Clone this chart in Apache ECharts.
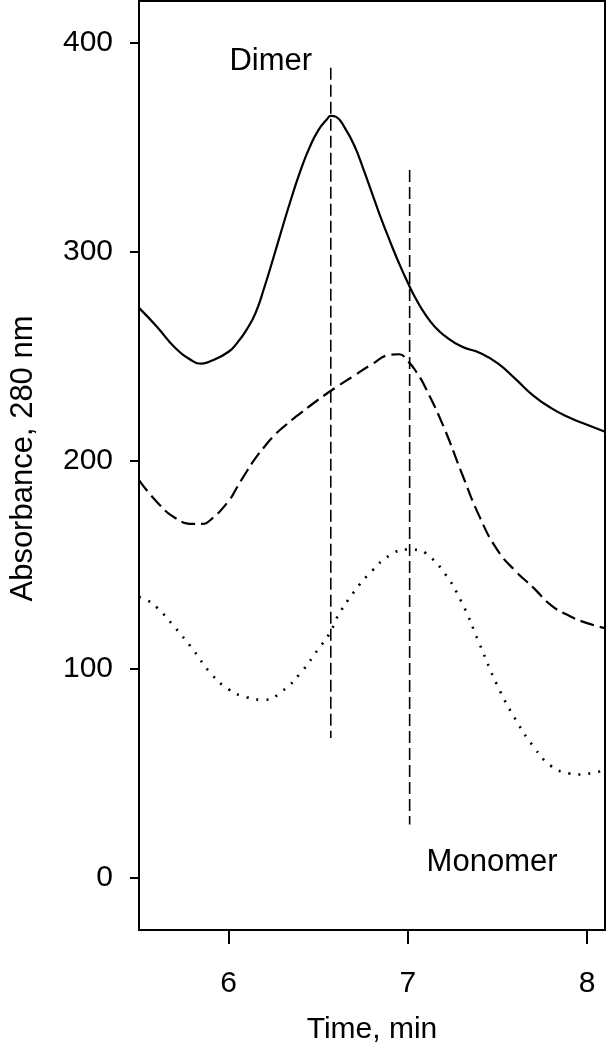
<!DOCTYPE html>
<html>
<head>
<meta charset="utf-8">
<script src="https://cdn.jsdelivr.net/npm/echarts@6/dist/echarts.min.js"></script>
<style>
    html, body { margin: 0; padding: 0; background: #fff; }
    #chart { width: 607px; height: 1050px; }
</style>
</head>
<body>
<div id="chart"></div>
<script>
// values: [time (min), absorbance]
var solidTrace = [
    [5.5, 273], [5.6, 264], [5.7, 254], [5.8, 247.5], [5.85, 246.3], [5.9, 247.5],
    [6.0, 252], [6.05, 256.5], [6.1, 262.5], [6.15, 270.5], [6.2, 283], [6.25, 297],
    [6.3, 311.5], [6.35, 325.5], [6.4, 338.5], [6.45, 349.5], [6.5, 358], [6.55, 363.5],
    [6.57, 365], [6.6, 364.5], [6.65, 359], [6.7, 351], [6.75, 340], [6.8, 328],
    [6.85, 316], [6.9, 305], [6.95, 294.5], [7.0, 285], [7.05, 276.5], [7.1, 269.5],
    [7.15, 264], [7.2, 260], [7.3, 254.5], [7.4, 251.5], [7.5, 246.5], [7.6, 239],
    [7.7, 231], [7.8, 225], [7.9, 220.5], [8.0, 217], [8.1, 213.7]
];
var dashedTrace = [
    [5.5, 190.5], [5.6, 180], [5.7, 172.5], [5.8, 169.5], [5.85, 169.5], [5.9, 171.5],
    [6.0, 180.5], [6.05, 187.5], [6.1, 194.5], [6.15, 201], [6.2, 206.5], [6.25, 211.5],
    [6.3, 215.5], [6.4, 222.5], [6.5, 229], [6.6, 235], [6.7, 240.5], [6.8, 246],
    [6.9, 250.5], [6.95, 250.8], [7.0, 247.5], [7.05, 242], [7.1, 234.5], [7.2, 216],
    [7.3, 194], [7.4, 173], [7.5, 157], [7.6, 147], [7.7, 139], [7.8, 130.5],
    [7.9, 125.5], [8.0, 122], [8.1, 119.6]
];
var dottedTrace = [
    [5.5, 134.5], [5.55, 132.8], [5.6, 129.5], [5.7, 120], [5.8, 109.5], [5.9, 98],
    [6.0, 90.3], [6.1, 86.5], [6.2, 85.3], [6.3, 89.5], [6.4, 98], [6.5, 109.5],
    [6.57, 118], [6.6, 124], [6.7, 137], [6.8, 147], [6.9, 154.5], [7.0, 157.3],
    [7.06, 157], [7.1, 155.5], [7.2, 146.5], [7.3, 132], [7.4, 112], [7.5, 92],
    [7.6, 76], [7.7, 63], [7.8, 53.5], [7.9, 50], [7.95, 49.5], [8.0, 49.8], [8.1, 51.5]
];
var dimerMarker = [[6.57, 388], [6.57, 67]];
var monomerMarker = [[7.01, 339], [7.01, 25.5]];
var peakLabels = [
    { name: 'Dimer', value: [6.235, 391] },
    { name: 'Monomer', value: [7.47, 7.3] }
];
var xTicks = [6, 7, 8];
var yTicks = [0, 100, 200, 300, 400];

var font = '"Liberation Sans", Arial, sans-serif';

var option = {
    backgroundColor: '#fff',
    animation: false,
    grid: {
        left: 131,
        right: 2,
        top: 1,
        bottom: 119,
        show: true,
        borderColor: '#000',
        borderWidth: 2
    },
    xAxis: {
        type: 'value',
        min: 5.5,
        max: 8.1,
        name: 'Time, min',
        nameLocation: 'middle',
        nameGap: 85,
        nameTextStyle: { fontFamily: font, fontSize: 30, color: '#000' },
        splitLine: { show: false },
        axisLine: { show: true, onZero: false, lineStyle: { color: '#000', width: 2 } },
        axisTick: { show: true, length: 14, customValues: xTicks, lineStyle: { color: '#000', width: 2 } },
        axisLabel: { customValues: xTicks, margin: 39, fontFamily: font, fontSize: 30, color: '#000' }
    },
    yAxis: {
        type: 'value',
        min: -25,
        max: 420,
        name: 'Absorbance, 280 nm',
        nameLocation: 'middle',
        nameGap: 100,
        nameTextStyle: { fontFamily: font, fontSize: 31, color: '#000', padding: [0, 0, 0, 14] },
        splitLine: { show: false },
        axisLine: { show: true, lineStyle: { color: '#000', width: 2 } },
        axisTick: { show: true, length: 9, customValues: yTicks, lineStyle: { color: '#000', width: 2 } },
        axisLabel: { customValues: yTicks, margin: 26, fontFamily: font, fontSize: 30, color: '#000' }
    },
    series: [
        {
            type: 'line',
            data: solidTrace,
            smooth: 0.5,
            symbol: 'none',
            lineStyle: { color: '#000', width: 2.2 }
        },
        {
            type: 'line',
            data: dashedTrace,
            smooth: 0.5,
            symbol: 'none',
            lineStyle: { color: '#000', width: 2.2, type: [14, 6] }
        },
        {
            type: 'line',
            data: dottedTrace,
            smooth: 0.5,
            symbol: 'none',
            lineStyle: { color: '#000', width: 2.6, type: [2, 8] }
        },
        {
            type: 'line',
            data: dimerMarker,
            symbol: 'none',
            lineStyle: { color: '#000', width: 1.6, type: [12, 5] }
        },
        {
            type: 'line',
            data: monomerMarker,
            symbol: 'none',
            lineStyle: { color: '#000', width: 1.6, type: [12, 5] }
        },
        {
            type: 'scatter',
            data: peakLabels,
            symbolSize: 0,
            itemStyle: { opacity: 1 },
            label: {
                show: true,
                position: 'inside',
                formatter: '{b}',
                fontFamily: font,
                fontSize: 31,
                color: '#000'
            }
        }
    ]
};

var chart = echarts.init(document.getElementById('chart'), null, { renderer: 'canvas' });
chart.setOption(option);
</script>
</body>
</html>
